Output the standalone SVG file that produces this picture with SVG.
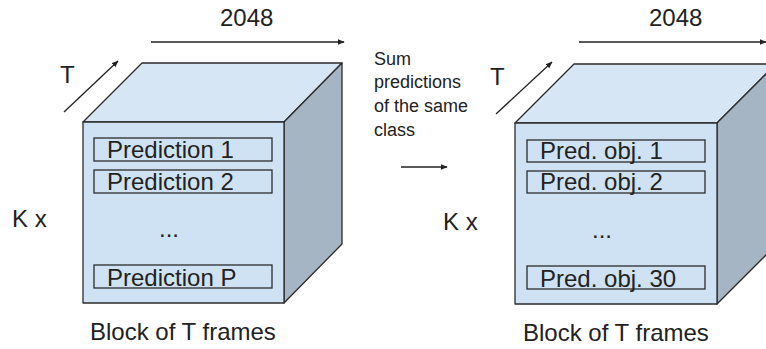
<svg xmlns="http://www.w3.org/2000/svg" width="766" height="349" viewBox="0 0 766 349">
  <style>
    text { font-family: "Liberation Sans", Arial, sans-serif; fill: #222; }
    .big { font-size: 24px; }
    .note { font-size: 18px; }
    .front { fill: #cfe2f3; stroke: #2b2b2b; stroke-width: 1.3; stroke-linejoin: round; }
    .top { fill: #d6e6f5; stroke: #2b2b2b; stroke-width: 1.3; stroke-linejoin: round; }
    .side { fill: #a6b5c3; stroke: #2b2b2b; stroke-width: 1.3; stroke-linejoin: round; }
    .row { fill: none; stroke: #2b2b2b; stroke-width: 1.3; }
    .arrow { fill: none; stroke: #222; stroke-width: 1.3; marker-end: url(#head); }
  </style>
  <defs>
    <marker id="head" viewBox="0 0 10 10" refX="9" refY="5" markerWidth="7" markerHeight="7" markerUnits="userSpaceOnUse" orient="auto">
      <path d="M0,1 L10,5 L0,9 Z" fill="#222"/>
    </marker>
  </defs>

  <!-- input block -->
  <g id="block-input">
    <polygon class="top" points="83,122 142,63 342,63 284,122"/>
    <polygon class="side" points="284,122 342,63 342,244 284,303"/>
    <rect class="front" x="83" y="122" width="201" height="181"/>
    <rect class="row" x="94" y="138" width="178" height="23"/>
    <rect class="row" x="94" y="170" width="178" height="23"/>
    <rect class="row" x="94" y="265" width="178" height="23"/>
    <text class="big" x="107" y="158">Prediction 1</text>
    <text class="big" x="107" y="190">Prediction 2</text>
    <text class="big" x="159" y="237">...</text>
    <text class="big" x="107" y="286">Prediction P</text>
    <text class="big" x="90" y="340">Block of T frames</text>
    <text class="big" x="220" y="26">2048</text>
    <text class="big" x="60" y="83">T</text>
    <text class="big" x="12" y="227">K x</text>
  </g>

  <!-- summed block -->
  <g id="block-summed">
    <polygon class="top" points="515,123 574,64 776,64 717,123"/>
    <polygon class="side" points="717,123 776,64 776,245 717,304"/>
    <rect class="front" x="515" y="123" width="202" height="181"/>
    <rect class="row" x="527" y="140" width="178" height="22"/>
    <rect class="row" x="527" y="171" width="178" height="22"/>
    <rect class="row" x="527" y="266" width="178" height="23"/>
    <text class="big" x="540" y="159">Pred. obj. 1</text>
    <text class="big" x="540" y="190">Pred. obj. 2</text>
    <text class="big" x="592" y="238">...</text>
    <text class="big" x="540" y="287">Pred. obj. 30</text>
    <text class="big" x="523" y="341">Block of T frames</text>
    <text class="big" x="649" y="26">2048</text>
    <text class="big" x="490" y="85">T</text>
    <text class="big" x="443" y="230">K x</text>
  </g>

  <!-- operation label -->
  <g id="op-label">
    <text class="note" x="374" y="65">Sum</text>
    <text class="note" x="374" y="88">predictions</text>
    <text class="note" x="374" y="112">of the same</text>
    <text class="note" x="374" y="136">class</text>
  </g>

  <!-- connectors and axis arrows -->
  <g id="connectors">
    <line class="arrow" x1="151" y1="42" x2="344" y2="42"/>
    <line class="arrow" x1="64" y1="112" x2="118" y2="61"/>
    <line class="arrow" x1="579" y1="42" x2="766" y2="42"/>
    <line class="arrow" x1="496" y1="114" x2="552" y2="62"/>
    <line class="arrow" x1="401" y1="167" x2="447" y2="167"/>
  </g>
</svg>
